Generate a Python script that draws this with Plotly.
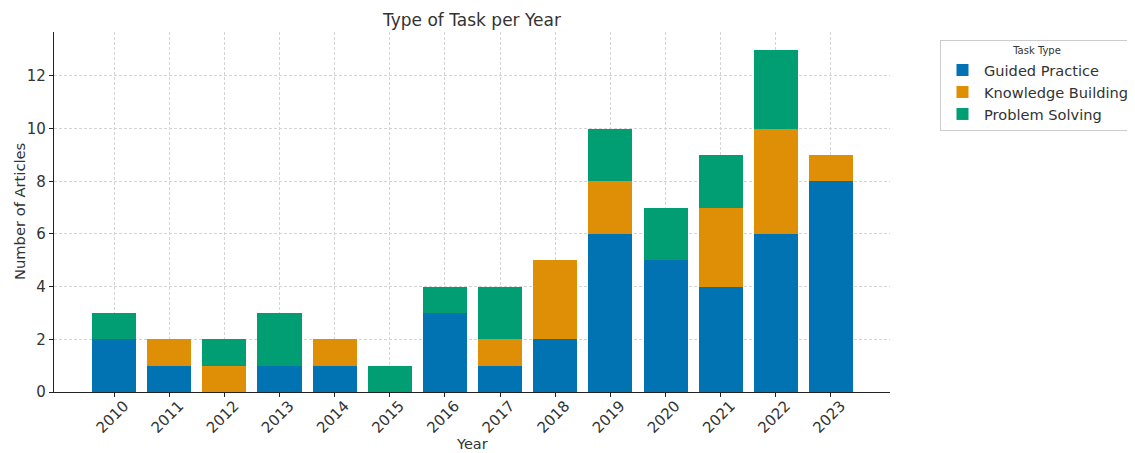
import plotly.graph_objects as go

years = [2010, 2011, 2012, 2013, 2014, 2015, 2016, 2017, 2018, 2019, 2020, 2021, 2022, 2023]
guided_practice = [2, 1, 0, 1, 1, 0, 3, 1, 2, 6, 5, 4, 6, 8]
knowledge_building = [0, 1, 1, 0, 1, 0, 0, 1, 3, 2, 0, 3, 4, 1]
problem_solving = [1, 0, 1, 2, 0, 1, 1, 2, 0, 2, 2, 2, 3, 0]

series = [
    ("Guided Practice", guided_practice, "#0173B2"),
    ("Knowledge Building", knowledge_building, "#DE8F05"),
    ("Problem Solving", problem_solving, "#029E73"),
]

fig = go.Figure()
for name, vals, color in series:
    fig.add_trace(go.Bar(
        x=years, y=vals, name=name, width=0.8,
        marker=dict(color=color, line=dict(width=0)),
    ))

# page has an 8px body margin; figure coords = page coords - 8
W, H = 1127, 445
L, T, R, B = 46, 24, 882, 384
PW, PH = R - L, B - T

font_family = "DejaVu Sans"
fig.update_layout(
    barmode="stack",
    width=W, height=H,
    paper_bgcolor="white", plot_bgcolor="white",
    font=dict(family=font_family, size=14, color="#333333"),
    margin=dict(l=L, r=W - R, t=T, b=H - B, autoexpand=False),
    title=dict(text="Type of Task per Year", x=(L + R) / 2 / W, xanchor="center",
               y=1 - 12 / H, yanchor="middle", font=dict(size=17, color="#333333")),
    xaxis=dict(
        range=[2008.91, 2024.07], tickmode="array", tickvals=years,
        ticktext=[str(y) for y in years], tickangle=-45,
        tickfont=dict(size=15), ticklabelshift=10, ticklabelstandoff=-6,
        showgrid=True, gridcolor="#d4d4d4", griddash="3px,2px", gridwidth=0.8,
        showline=True, linecolor="#222222", linewidth=1.2,
        ticks="outside", ticklen=4, tickcolor="#222222",
        zeroline=False, automargin=False,
    ),
    yaxis=dict(
        range=[0, 13.67], tickmode="array", tickvals=[0, 2, 4, 6, 8, 10, 12],
        tickfont=dict(size=15),
        showgrid=True, gridcolor="#d4d4d4", griddash="3px,2px", gridwidth=0.8,
        showline=True, linecolor="#222222", linewidth=1.2,
        ticks="outside", ticklen=4, tickcolor="#222222",
        zeroline=False, automargin=False,
    ),
    legend=dict(
        x=(932 - L) / PW, y=(B - 32) / PH, xanchor="left", yanchor="top",
        bordercolor="#cccccc", borderwidth=1, bgcolor="white",
        title=dict(text="Task Type", side="top center", font=dict(size=10)),
        font=dict(size=14.6), traceorder="normal", itemwidth=33,
    ),
    annotations=[
        dict(text="Year", xref="paper", yref="paper", x=0.5, y=(B - 436) / PH,
             xanchor="center", yanchor="middle", showarrow=False, font=dict(size=14.5)),
        dict(text="Number of Articles", xref="paper", yref="paper", x=(11 - L) / PW, y=0.5,
             xanchor="center", yanchor="middle", textangle=-90, showarrow=False,
             font=dict(size=14.7)),
    ],
)

fig.write_html("out.html")
